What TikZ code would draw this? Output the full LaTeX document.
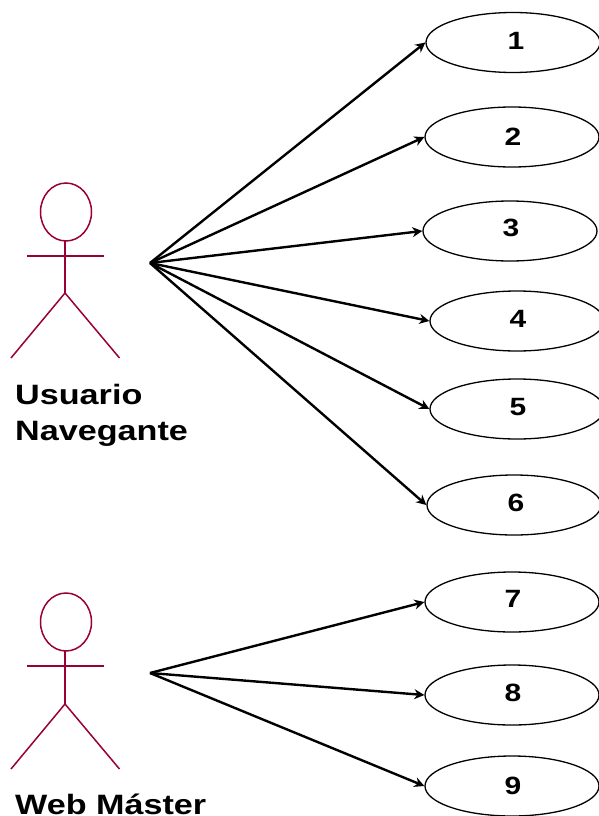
\documentclass[tikz,border=0pt]{standalone}
\usepackage{fontspec}
\setmainfont{Liberation Sans}
\newfontfamily\widebold[FakeStretch=1.22]{Liberation Sans Bold}
\newfontfamily\digitbold[FakeStretch=1.2]{Liberation Sans Bold}
\usetikzlibrary{shapes.geometric,arrows.meta}
\definecolor{actorc}{RGB}{153,0,51}
\tikzset{
  x=1pt,y=-1pt,
  usecase/.style={draw=black,line width=1.3pt,ellipse,minimum width=174pt,minimum height=60pt,inner sep=0pt},
  digit/.style={font=\digitbold\fontsize{25}{25}\selectfont,inner sep=0pt,text=black},
  flow/.style={draw=black,line width=2.4pt,-{Stealth[length=10pt,width=10pt]}},
  actorline/.style={draw=actorc,line width=1.5pt},
  actorlabel/.style={font=\widebold\fontsize{28}{36}\selectfont,align=left,anchor=north west,inner sep=0pt,text=black}
}
\newcommand{\stick}[3]{%
  \begin{scope}[shift={(#1,#2)}]
    \draw[actorline] (66,-51) ellipse (25.5pt and 29pt);
    \draw[actorline] (65,-22) -- (65,#3);
    \draw[actorline] (27,-7) -- (104,-7);
    \draw[actorline] (11,#3+65) -- (65,#3) -- (119.5,#3+65);
  \end{scope}}
\begin{document}
\begin{tikzpicture}
\useasboundingbox (0,0) rectangle (599,816);
\fill[white] (0,0) rectangle (599,816);
\stick{0}{263}{30}
\stick{0}{673}{31}
\node[actorlabel] (lab1) at (15,384) {Usuario\\Navegante};
\node[actorlabel] (lab2) at (15,793.5) {Web Máster};
\coordinate (s1) at (150,263);
\coordinate (s2) at (150,673);
\node[usecase] (u1) at (513,42.5) {};
\node[usecase] (u2) at (512,137) {};
\node[usecase] (u3) at (510,231) {};
\node[usecase] (u4) at (517,321) {};
\node[usecase] (u5) at (517,409) {};
\node[usecase] (u6) at (514,505) {};
\node[usecase] (u7) at (512,602) {};
\node[usecase] (u8) at (512,695) {};
\node[usecase] (u9) at (512,786) {};
\node[digit] (d1) at (516,41) {1};
\node[digit] (d2) at (513,137) {2};
\node[digit] (d3) at (511,228) {3};
\node[digit] (d4) at (518,319) {4};
\node[digit] (d5) at (518,407) {5};
\node[digit] (d6) at (516,503) {6};
\node[digit] (d7) at (513,599) {7};
\node[digit] (d8) at (513,693) {8};
\node[digit] (d9) at (513,786) {9};
\foreach \n in {1,...,6} \draw[flow] (s1) -- (u\n.west);
\foreach \n in {7,8,9} \draw[flow] (s2) -- (u\n.west);
\end{tikzpicture}
\end{document}
